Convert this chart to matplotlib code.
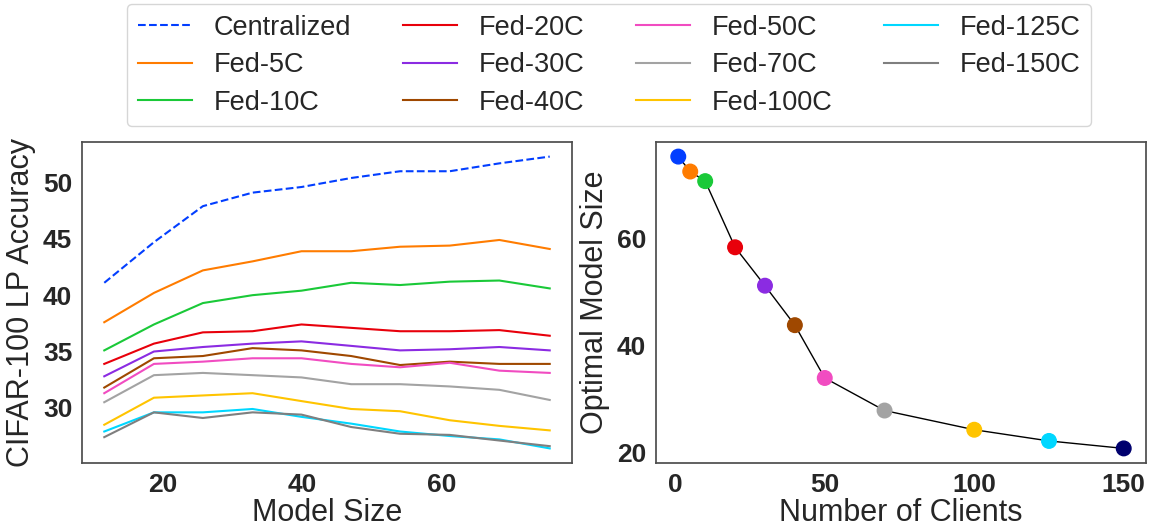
import matplotlib
matplotlib.use('Agg')
import matplotlib.pyplot as plt

plt.rcParams['font.family'] = ['Liberation Sans', 'DejaVu Sans']

# model sizes on the left panel
model_size = [11.7, 18.8, 25.8, 32.9, 39.9, 47.0, 54.0, 61.1, 68.2, 75.4]

centralized = [41.1, 44.7, 47.9, 49.1, 49.6, 50.4, 51.0, 51.0, 51.7, 52.3]
fed_5c = [37.6, 40.2, 42.2, 43.0, 43.9, 43.9, 44.3, 44.4, 44.9, 44.1]
fed_10c = [35.1, 37.4, 39.3, 40.0, 40.4, 41.1, 40.9, 41.2, 41.3, 40.6]
fed_20c = [33.9, 35.7, 36.7, 36.8, 37.4, 37.1, 36.8, 36.8, 36.9, 36.4]
fed_30c = [32.8, 35.0, 35.4, 35.7, 35.9, 35.5, 35.1, 35.2, 35.4, 35.1]
fed_40c = [31.8, 34.4, 34.6, 35.3, 35.1, 34.6, 33.8, 34.1, 33.9, 33.9]
fed_50c = [31.3, 33.9, 34.1, 34.4, 34.4, 33.9, 33.6, 34.0, 33.3, 33.1]
fed_70c = [30.5, 32.9, 33.1, 32.9, 32.7, 32.1, 32.1, 31.9, 31.6, 30.7]
fed_100c = [28.5, 30.9, 31.1, 31.3, 30.6, 29.9, 29.7, 28.9, 28.4, 28.0]
fed_125c = [27.9, 29.6, 29.6, 29.9, 29.2, 28.6, 27.9, 27.5, 27.2, 26.4]
fed_150c = [27.4, 29.6, 29.1, 29.6, 29.4, 28.3, 27.7, 27.6, 27.1, 26.6]

names = ['Centralized', 'Fed-5C', 'Fed-10C', 'Fed-20C', 'Fed-30C', 'Fed-40C',
         'Fed-50C', 'Fed-70C', 'Fed-100C', 'Fed-125C', 'Fed-150C']
curves = [centralized, fed_5c, fed_10c, fed_20c, fed_30c, fed_40c,
          fed_50c, fed_70c, fed_100c, fed_125c, fed_150c]
colors = ['#023eff', '#ff7c00', '#1ac938', '#e8000b', '#8b2be2', '#9f4800',
          '#f14cc1', '#a3a3a3', '#ffc400', '#00d7ff', '#7f7f7f']

# right panel: optimal model size vs number of clients
clients = [1, 5, 10, 20, 30, 40, 50, 70, 100, 125, 150]
optimal_size = [75.4, 72.6, 70.8, 58.4, 51.2, 43.8, 33.9, 27.8, 24.2, 22.1, 20.7]
point_colors = colors[:-1] + ['#00006e']

fig = plt.figure(figsize=(11.53, 5.31), dpi=100)
ax1 = fig.add_axes([82/1153, 68/531, 490/1153, 321/531])
ax2 = fig.add_axes([656/1153, 68/531, 490/1153, 321/531])

for name, ys, c in zip(names, curves, colors):
    ls = '--' if name == 'Centralized' else '-'
    ax1.plot(model_size, ys, color=c, linestyle=ls, linewidth=1.5, label=name)

ax2.plot(clients, optimal_size, color='black', linewidth=1, zorder=1)
ax2.scatter(clients, optimal_size, c=point_colors, s=110, zorder=2)

ax1.set_xticks([20, 40, 60])
ax1.set_yticks([30, 35, 40, 45, 50])
ax2.set_xticks([0, 50, 100, 150])
ax2.set_yticks([20, 40, 60])

ax1.set_xlabel('Model Size', fontsize=22, color='#262626', labelpad=1)
ax1.set_ylabel('CIFAR-100 LP Accuracy', fontsize=22, color='#262626', labelpad=5)
ax2.set_xlabel('Number of Clients', fontsize=22, color='#262626', labelpad=1)
ax2.set_ylabel('Optimal Model Size', fontsize=22, color='#262626', labelpad=5)

for ax in (ax1, ax2):
    ax.tick_params(length=0, labelsize=19, pad=7, labelcolor='#262626')
    for lab in ax.get_xticklabels() + ax.get_yticklabels():
        lab.set_fontweight('bold')
    for sp in ax.spines.values():
        sp.set_color('#4d4d4d')
        sp.set_linewidth(1.25)

handles, labels = ax1.get_legend_handles_labels()
leg = fig.legend(handles, labels, loc='upper center', ncol=4, fontsize=19.5,
                 bbox_to_anchor=(609/1153, 1.0), borderaxespad=0.15,
                 frameon=True, fancybox=True, handlelength=2.0,
                 columnspacing=1.9, labelspacing=0.42)
leg.get_frame().set_edgecolor('#cccccc')
for t in leg.get_texts():
    t.set_color('#262626')

fig.savefig('out.png', dpi=100)
